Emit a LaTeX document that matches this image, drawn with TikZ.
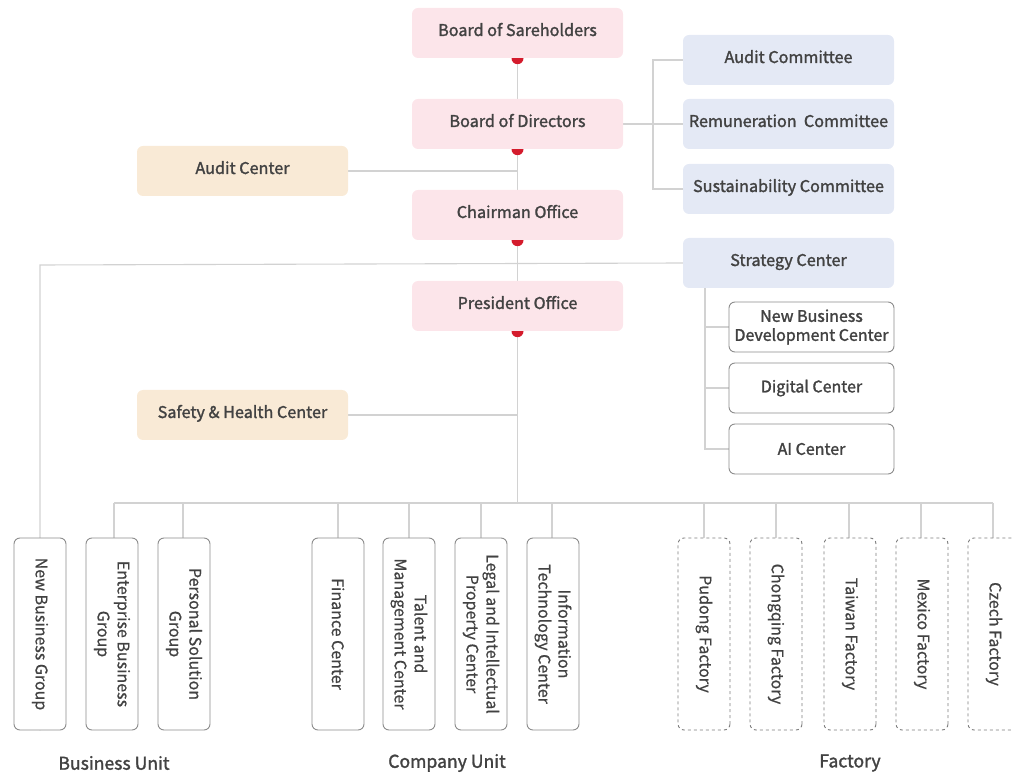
\documentclass[tikz,border=0pt]{standalone}
\usepackage{fontspec}
\setmainfont{Noto Sans CJK KR}[FakeBold=0.6]
\newfontfamily\medfont{Noto Sans CJK KR}[FakeBold=1.6]
\pgfdeclarelayer{bg}
\pgfsetlayers{bg,main}

\definecolor{txt}{HTML}{424242}
\definecolor{pinkf}{HTML}{FCE5EA}
\definecolor{bluef}{HTML}{E4E9F5}
\definecolor{beigef}{HTML}{F9EAD6}
\definecolor{linec}{HTML}{D2D2D2}
\definecolor{boxline}{HTML}{8C8C8C}
\definecolor{dotred}{HTML}{D41B2C}

\tikzset{
  headbox/.style={rectangle, rounded corners=6pt, minimum width=211pt, minimum height=50pt,
    inner sep=0pt, text height=12pt, text depth=6pt, text=txt,
    font=\medfont\fontsize{16.2}{20}\selectfont},
  pinkbox/.style={headbox, fill=pinkf},
  bluebox/.style={headbox, fill=bluef},
  beigebox/.style={headbox, fill=beigef},
  subbox/.style={rectangle, rounded corners=6pt, draw=boxline, line width=0.9pt, fill=white,
    minimum width=165pt, minimum height=50pt, inner sep=0pt, align=center, text=txt,
    font=\medfont\fontsize{16}{19}\selectfont},
  unitbox/.style={rectangle, rotate=-90, rounded corners=6pt, draw=boxline, line width=0.9pt,
    fill=white, minimum width=192pt, minimum height=52pt, inner sep=0pt, align=center,
    text=txt, font=\fontsize{16}{20}\selectfont},
  factbox/.style={unitbox, draw=boxline!90!black, dash pattern=on 3pt off 3pt},
  grouplabel/.style={text=txt, font=\medfont\fontsize{17.6}{20}\selectfont, inner sep=0pt},
  conn/.style={draw=linec, line width=1.1pt},
  dot/.style={fill=dotred}
}

\begin{document}
\begin{tikzpicture}[x=1pt, y=-1pt]
\useasboundingbox (0,0) rectangle (1013,775);

% governance chain
\node[pinkbox] (sh) at (517.5,33)  {Board of Sareholders};
\node[pinkbox] (bd) at (517.5,124) {Board of Directors};
\node[pinkbox] (co) at (517.5,215) {Chairman Office};
\node[pinkbox] (po) at (517.5,306) {President Office};

% committees
\node[bluebox] (ac) at (788.5,60)  {Audit Committee};
\node[bluebox] (rc) at (788.5,124) {Remuneration\ \ Committee};
\node[bluebox] (sc) at (788.5,189) {Sustainability Committee};

% staff centers
\node[beigebox] (audc) at (242.5,171) {Audit Center};
\node[beigebox] (shc)  at (242.5,415) {Safety \& Health Center};

% strategy
\node[bluebox] (strat) at (788.5,263) {Strategy Center};
\node[subbox] (nbd) at (811.5,327) {New Business\\Development Center};
\node[subbox] (dig) at (811.5,388) {Digital Center};
\node[subbox] (ai)  at (811.5,449) {AI Center};

% business units
\node[unitbox] (nbg) at (40,634)  {New Business Group};
\node[unitbox] (ebg) at (112,634) {Enterprise Business\\Group};
\node[unitbox] (psg) at (184,634) {Personal Solution\\Group};

% company units
\node[unitbox] (fin) at (338,634) {Finance Center};
\node[unitbox] (tal) at (409,634) {Talent and\\Management Center};
\node[unitbox] (leg) at (481,634) {Legal and Intellectual\\Property Center};
\node[unitbox] (itc) at (553,634) {Information\\Technology Center};

% factories
\node[factbox] (pud) at (704,634) {Pudong Factory};
\node[factbox] (chq) at (776,634) {Chongqing Factory};
\node[factbox] (tw)  at (850,634) {Taiwan Factory};
\node[factbox] (mx)  at (922,634) {Mexico Factory};
\node[factbox] (cz)  at (994,634) {Czech Factory};

% group captions
\node[grouplabel] (lbu) at (114,763) {Business Unit};
\node[grouplabel] (lcu) at (447,763) {Company Unit};
\node[grouplabel] (lfa) at (850,763) {Factory};

% junction points
\coordinate (cbr) at (653,124);
\coordinate (hub) at (517.5,503);
\coordinate (nbgturn) at (40,265);
\coordinate (strj) at (705,288);

\begin{pgfonlayer}{bg}
  % main spine
  \draw[conn] (sh.south) -- (bd.north);
  \draw[conn] (bd.south) -- (co.north);
  \draw[conn] (co.south) -- (po.north);
  \draw[conn] (po.south) -- (hub);

  % committee bracket
  \draw[conn] (bd.east) -- (cbr) -- (rc.west);
  \draw[conn] (ac.west) -| (cbr);
  \draw[conn] (sc.west) -| (cbr);

  % staff centers
  \draw[conn] (audc.east) -- (audc.east -| co.south);
  \draw[conn] (shc.east) -- (shc.east -| po.south);

  % strategy line and new business group
  \draw[conn] (strat.west) -- (nbgturn) -- (nbg.east);
  \draw[conn] (strj) |- (nbd.west);
  \draw[conn] (strj |- dig.west) -- (dig.west);
  \draw[conn] (strj) |- (ai.west);

  % bottom distribution bar
  \draw[conn] (114,503) -- (993,503);
  \foreach \n/\x in {ebg/114, psg/183, fin/338, tal/409, leg/481, itc/552,
                     pud/704, chq/776, tw/849, mx/921, cz/993}
    \draw[conn] (\x,503) -- (\x,538);

  % red markers under the chain boxes
  \foreach \n in {sh,bd,co,po}
    \fill[dot] (\n.south) circle[radius=6pt];
\end{pgfonlayer}
\end{tikzpicture}
\end{document}
